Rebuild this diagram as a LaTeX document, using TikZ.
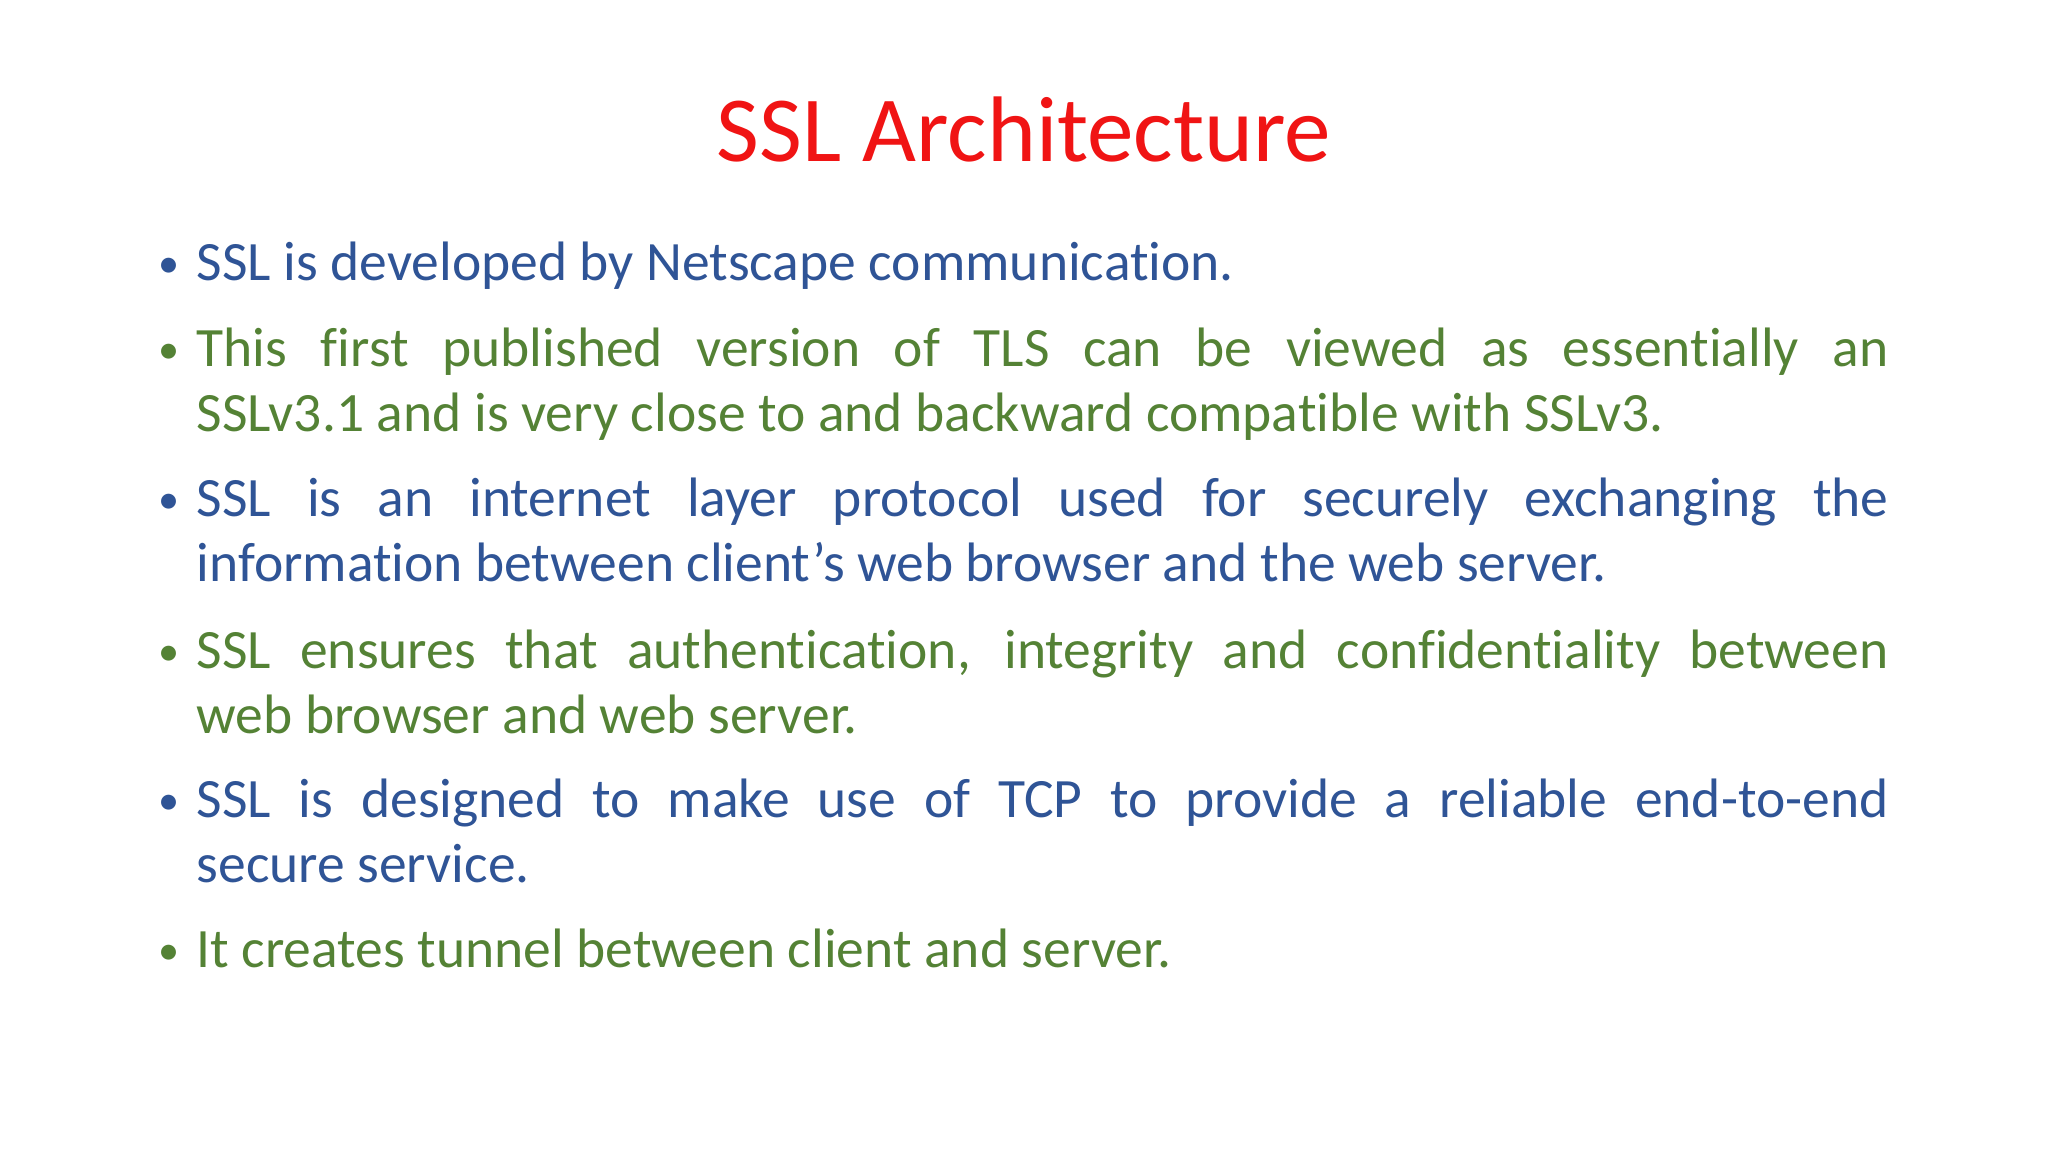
\documentclass[tikz,border=0pt]{standalone}
\usepackage{fontspec}
\setmainfont{Carlito}[Ligatures=NoCommon]
\definecolor{tblue}{RGB}{47,84,150}
\definecolor{tgreen}{RGB}{84,130,53}
\definecolor{tred}{RGB}{240,20,20}
\newcommand{\nohyph}{\hyphenpenalty 10000\relax}
\begin{document}
\begin{tikzpicture}[
  item/.style={anchor=base west,inner sep=0pt,text width=16.92cm,align=justify,font=\fontsize{15.8}{18.4}\selectfont\nohyph},
  bul/.style={anchor=base west,inner sep=0pt,font=\fontsize{12}{14}\selectfont}]
\useasboundingbox[fill=white] (0,0) rectangle (20.48,11.52);
\node[text=tred,font=\fontsize{26.5}{32}\selectfont] (title) at (10.24,10.22) {SSL Architecture};
\foreach \n/\y/\c/\t in {
 a/2.81/tblue/{SSL is developed by Netscape communication.},
 b/3.67/tgreen/{This first published version of TLS can be viewed as essentially an\linebreak SSLv3.1 and is very close to and backward compatible with SSLv3.},
 c/5.17/tblue/{SSL is an internet layer protocol used for securely exchanging the\linebreak information between client’s web browser and the web server.},
 d/6.69/tgreen/{SSL ensures that authentication, integrity and confidentiality between\linebreak web browser and web server.},
 e/8.18/tblue/{SSL is designed to make use of TCP to provide a reliable end-to-end\linebreak secure service.},
 f/9.68/tgreen/{It creates tunnel between client and server.}}{
  \node[bul,text=\c] (b\n) at (1.58,11.52-\y+0.03) {•};
  \node[item,text=\c] (t\n) at (1.96,11.52-\y) {\t};
}
\end{tikzpicture}
\end{document}
